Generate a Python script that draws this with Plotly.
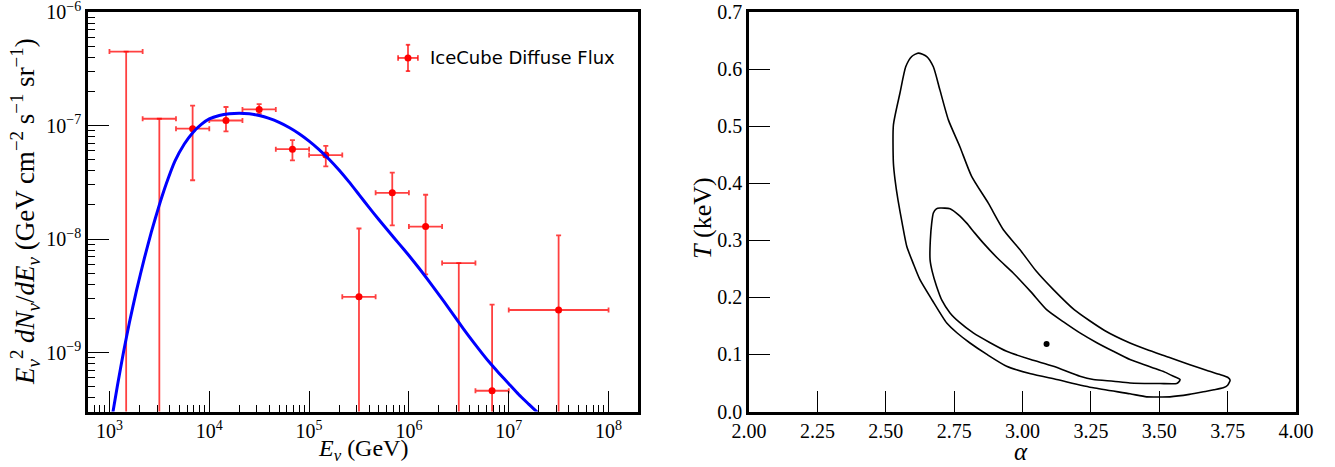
import plotly.graph_objects as go

# ---------------- Left panel data: IceCube diffuse flux ----------------
energy_center = [1.47e3, 3.16e3, 6.81e3, 1.47e4, 3.16e4, 6.81e4, 1.47e5,
                 3.16e5, 6.81e5, 1.47e6, 3.16e6, 6.81e6, 3.16e7]
energy_low = [1.0e3, 2.15e3, 4.64e3, 1.0e4, 2.15e4, 4.64e4, 1.0e5,
              2.15e5, 4.64e5, 1.0e6, 2.15e6, 4.64e6, 1.0e7]
energy_high = [2.15e3, 4.64e3, 1.0e4, 2.15e4, 4.64e4, 1.0e5, 2.15e5,
               4.64e5, 1.0e6, 2.15e6, 4.64e6, 1.0e7, 1.0e8]
flux = [4.5e-7, 1.15e-7, 9.4e-8, 1.11e-7, 1.39e-7, 6.2e-8, 5.5e-8,
        3.1e-9, 2.56e-8, 1.29e-8, 6.15e-9, 4.6e-10, 2.37e-9]
flux_upper = [4.5e-7, 1.15e-7, 1.5e-7, 1.46e-7, 1.55e-7, 7.45e-8, 6.64e-8,
              1.24e-8, 3.86e-8, 2.46e-8, 6.15e-9, 2.64e-9, 1.08e-8]
flux_lower = [0, 0, 3.3e-8, 8.9e-8, 1.27e-7, 4.95e-8, 4.38e-8,
              0, 1.32e-8, 4.88e-9, 0, 0, 0]
is_upper_limit = [True, True, False, False, False, False, False,
                  False, False, False, True, False, False]

# model curve: log10(E/GeV), log10(flux)
model_logE = [3.03, 3.08, 3.14, 3.20, 3.27, 3.35, 3.42, 3.49, 3.57, 3.657,
              3.75, 3.83, 3.92, 4.00, 4.10, 4.20, 4.30, 4.40, 4.50, 4.60,
              4.70, 4.80, 4.90, 5.00, 5.10, 5.20, 5.30, 5.40, 5.50, 5.60,
              5.70, 5.80, 5.90, 6.00, 6.10, 6.20, 6.30, 6.40, 6.50, 6.60,
              6.70, 6.80, 6.90, 7.00, 7.10, 7.20, 7.29]
model_logF = [-9.55, -9.29, -9.00, -8.736, -8.456, -8.168, -7.937, -7.727, -7.511, -7.311,
              -7.162, -7.066, -6.989, -6.941, -6.911, -6.896, -6.891, -6.896, -6.911, -6.936,
              -6.971, -7.016, -7.071, -7.136, -7.211, -7.296, -7.391, -7.496, -7.608, -7.72,
              -7.83, -7.935, -8.04, -8.145, -8.255, -8.37, -8.49, -8.61, -8.735, -8.855,
              -8.97, -9.08, -9.18, -9.275, -9.37, -9.455, -9.53]

x1_ticks = [1e3, 1e4, 1e5, 1e6, 1e7, 1e8]
x1_ticktext = ["10<sup>3</sup>", "10<sup>4</sup>", "10<sup>5</sup>",
               "10<sup>6</sup>", "10<sup>7</sup>", "10<sup>8</sup>"]
y1_ticks = [1e-9, 1e-8, 1e-7, 1e-6]
y1_ticktext = ["10<sup>−9</sup>", "10<sup>−8</sup>", "10<sup>−7</sup>", "10<sup>−6</sup>"]

# ---------------- Right panel data: confidence contours ----------------
outer_alpha = [2.619, 2.650, 2.674, 2.698, 2.729, 2.771, 2.814, 2.875, 2.930, 2.991,
               3.050, 3.113, 3.190, 3.300, 3.393, 3.454, 3.535, 3.612, 3.680, 3.722,
               3.750, 3.759, 3.750, 3.734, 3.700, 3.673, 3.610, 3.539, 3.500, 3.454,
               3.393, 3.259, 3.125, 3.030, 2.942, 2.870, 2.808, 2.760, 2.723, 2.670,
               2.625, 2.600, 2.577, 2.560, 2.545, 2.534, 2.528, 2.528, 2.552, 2.573,
               2.595, 2.619]
outer_T = [0.628, 0.622, 0.604, 0.5635, 0.511, 0.464, 0.412, 0.365, 0.3185, 0.2835,
           0.246, 0.2135, 0.178, 0.142, 0.120, 0.1085, 0.095, 0.082, 0.071, 0.0648,
           0.060, 0.055, 0.046, 0.0415, 0.038, 0.0356, 0.030, 0.0257, 0.0255, 0.0257,
           0.031, 0.0415, 0.056, 0.066, 0.0793, 0.100, 0.120, 0.138, 0.155, 0.195,
           0.231, 0.260, 0.289, 0.330, 0.370, 0.406, 0.435, 0.502, 0.558, 0.604,
           0.622, 0.628]
inner_alpha = [2.698, 2.735, 2.765, 2.796, 2.825, 2.857, 2.910, 2.966, 3.030, 3.088,
               3.150, 3.210, 3.270, 3.332, 3.393, 3.440, 3.478, 3.520, 3.552, 3.576,
               3.570, 3.564, 3.503, 3.393, 3.332, 3.259, 3.210, 3.113, 3.030, 2.942,
               2.880, 2.820, 2.770, 2.735, 2.705, 2.686, 2.670, 2.662, 2.663, 2.668,
               2.674, 2.685, 2.698]
inner_T = [0.3565, 0.3553, 0.345, 0.330, 0.313, 0.295, 0.268, 0.2427, 0.210, 0.1785,
           0.157, 0.1377, 0.121, 0.1055, 0.091, 0.083, 0.0764, 0.069, 0.0618, 0.056,
           0.051, 0.049, 0.049, 0.050, 0.053, 0.056, 0.0618, 0.0793, 0.091, 0.1055,
           0.121, 0.1377, 0.156, 0.1727, 0.195, 0.219, 0.245, 0.266, 0.300, 0.330,
           0.3477, 0.355, 0.3565]
best_alpha = [3.088]
best_T = [0.1184]

x2_ticks = [2.0, 2.25, 2.5, 2.75, 3.0, 3.25, 3.5, 3.75, 4.0]
y2_ticks = [0.0, 0.1, 0.2, 0.3, 0.4, 0.5, 0.6, 0.7]

# ---------------- Build figure ----------------
FLOOR = 1e-13
ERR_COLOR = "rgba(255,0,0,0.75)"
X1_RANGE = [2.785, 8.295]
Y1_RANGE = [-9.52, -5.998]

fig = go.Figure()


def add_points(indices, show_marker):
    xs = [energy_center[i] for i in indices]
    ys = [flux[i] for i in indices]
    ex_p = [energy_high[i] - energy_center[i] for i in indices]
    ex_m = [energy_center[i] - energy_low[i] for i in indices]
    ey_p = [flux_upper[i] - flux[i] for i in indices]
    ey_m = [flux[i] - max(flux_lower[i], FLOOR) for i in indices]
    fig.add_trace(go.Scatter(
        x=xs, y=ys, mode="markers", xaxis="x", yaxis="y", showlegend=False,
        marker=dict(color="red" if show_marker else "rgba(0,0,0,0)",
                    size=7 if show_marker else 1),
        error_x=dict(type="data", symmetric=False, array=ex_p, arrayminus=ex_m,
                     color=ERR_COLOR, thickness=1.8, width=2.5),
        error_y=dict(type="data", symmetric=False, array=ey_p, arrayminus=ey_m,
                     color=ERR_COLOR, thickness=1.8, width=2.5),
    ))


add_points([i for i, u in enumerate(is_upper_limit) if u], False)
add_points([i for i, u in enumerate(is_upper_limit) if not u], True)

fig.add_trace(go.Scatter(
    x=[10 ** v for v in model_logE], y=[10 ** v for v in model_logF],
    mode="lines", line=dict(color="#0000ff", width=3, shape="spline", smoothing=0.5),
    xaxis="x", yaxis="y", showlegend=False,
))

for a, t in ((outer_alpha, outer_T), (inner_alpha, inner_T)):
    fig.add_trace(go.Scatter(
        x=a, y=t, mode="lines", line=dict(color="black", width=1.6, shape="spline", smoothing=0.6),
        xaxis="x2", yaxis="y2", showlegend=False,
    ))
fig.add_trace(go.Scatter(
    x=best_alpha, y=best_T, mode="markers", marker=dict(color="black", size=6),
    xaxis="x2", yaxis="y2", showlegend=False,
))
# empty trace to activate the minor-tick overlay axes
fig.add_trace(go.Scatter(x=[], y=[], xaxis="x3", yaxis="y3", showlegend=False))

W, H = 1335, 467
L1, R1 = 88, 638
L2, R2 = 749, 1296
TOP, BOT = 12, 411.5
ydom = [1 - BOT / H, 1 - TOP / H]

serif = "Liberation Serif, Times New Roman, serif"
tickfont = dict(family=serif, size=20, color="black")
base = dict(showline=True, linecolor="black", linewidth=2.5, mirror=True,
            ticks="inside", tickcolor="black", tickwidth=1.3, ticklen=21,
            showgrid=False, zeroline=False, tickfont=tickfont, automargin=False,
            ticklabeloverflow="allow")

minor_x = [m * 10 ** d for d in range(2, 9) for m in range(2, 10)
           if 10 ** X1_RANGE[0] <= m * 10 ** d <= 10 ** X1_RANGE[1]]
minor_y = [m * 10 ** d for d in range(-10, -6) for m in range(2, 10)
           if 10 ** Y1_RANGE[0] <= m * 10 ** d <= 10 ** Y1_RANGE[1]]
minor_style = dict(ticks="inside", ticklen=7, tickwidth=1.2, tickcolor="black",
                   showticklabels=False, showline=False, showgrid=False,
                   zeroline=False, automargin=False, tickmode="array")

fig.update_layout(
    width=W, height=H,
    margin=dict(l=0, r=0, t=0, b=0),
    paper_bgcolor="white", plot_bgcolor="white",
    xaxis=dict(base, domain=[L1 / W, R1 / W], type="log", range=X1_RANGE,
               tickmode="array", tickvals=x1_ticks, ticktext=x1_ticktext, anchor="y"),
    yaxis=dict(base, domain=ydom, type="log", range=Y1_RANGE,
               tickmode="array", tickvals=y1_ticks, ticktext=y1_ticktext, anchor="x"),
    xaxis3=dict(minor_style, overlaying="x", anchor="y", side="bottom", type="log",
                range=X1_RANGE, tickvals=minor_x),
    yaxis3=dict(minor_style, overlaying="y", anchor="x", side="left", type="log",
                range=Y1_RANGE, tickvals=minor_y),
    xaxis2=dict(base, domain=[L2 / W, R2 / W], range=[2, 4], tickmode="array",
                tickvals=x2_ticks, ticktext=["%.2f" % v for v in x2_ticks], anchor="y2"),
    yaxis2=dict(base, domain=ydom, range=[0, 0.7], tickmode="array",
                tickvals=y2_ticks, ticktext=["%.1f" % v for v in y2_ticks], anchor="x2"),
)

ann = [
    dict(text="<i>E</i><sub><i>ν</i></sub> (GeV)", x=363 / W, y=1 - 450 / H,
         font=dict(family=serif, size=24, color="black")),
    dict(text="<i>E</i><sub><i>ν</i></sub><sup>2</sup> <i>dN</i><sub><i>ν</i></sub>/<i>dE</i><sub><i>ν</i></sub>"
              " (GeV cm<sup>−2</sup> s<sup>−1</sup> sr<sup>−1</sup>)",
         x=25 / W, y=1 - 212 / H, textangle=-90,
         font=dict(family=serif, size=27, color="black")),
    dict(text="<i>α</i>", x=1021 / W, y=1 - 451 / H,
         font=dict(family=serif, size=25, color="black")),
    dict(text="<i>T</i> (keV)", x=702 / W, y=1 - 218 / H, textangle=-90,
         font=dict(family=serif, size=26, color="black")),
    dict(text="IceCube Diffuse Flux", x=0.618, y=0.885, xref="x domain", yref="y domain",
         xanchor="left", font=dict(family="DejaVu Sans, sans-serif", size=18, color="black")),
]
for a in ann:
    a.setdefault("xref", "paper")
    a.setdefault("yref", "paper")
    a.setdefault("xanchor", "center")
    a.update(yanchor="middle", showarrow=False)
fig.update_layout(annotations=ann)

# legend glyph (errorbar symbol) in left-axes domain coordinates
lx, ly = 0.5818, 0.885
shapes = [
    dict(type="line", xref="x domain", yref="y domain", x0=lx - 0.018, x1=lx + 0.018, y0=ly, y1=ly,
         line=dict(color=ERR_COLOR, width=1.8)),
    dict(type="line", xref="x domain", yref="y domain", x0=lx, x1=lx, y0=ly - 0.033, y1=ly + 0.033,
         line=dict(color=ERR_COLOR, width=1.8)),
    dict(type="circle", xref="x domain", yref="y domain", xsizemode="pixel", ysizemode="pixel",
         xanchor=lx, yanchor=ly, x0=-3.5, x1=3.5, y0=-3.5, y1=3.5,
         fillcolor="red", line=dict(color="red", width=0)),
]
for dx in (-0.018, 0.018):
    shapes.append(dict(type="line", xref="x domain", yref="y domain", x0=lx + dx, x1=lx + dx,
                       y0=ly - 0.007, y1=ly + 0.007, line=dict(color=ERR_COLOR, width=1.8)))
for dy in (-0.033, 0.033):
    shapes.append(dict(type="line", xref="x domain", yref="y domain", x0=lx - 0.004, x1=lx + 0.004,
                       y0=ly + dy, y1=ly + dy, line=dict(color=ERR_COLOR, width=1.8)))
fig.update_layout(shapes=shapes)

fig.write_html("out.html", config={"displayModeBar": False},
               post_script="document.body.style.margin='0';document.body.style.overflow='hidden';")
